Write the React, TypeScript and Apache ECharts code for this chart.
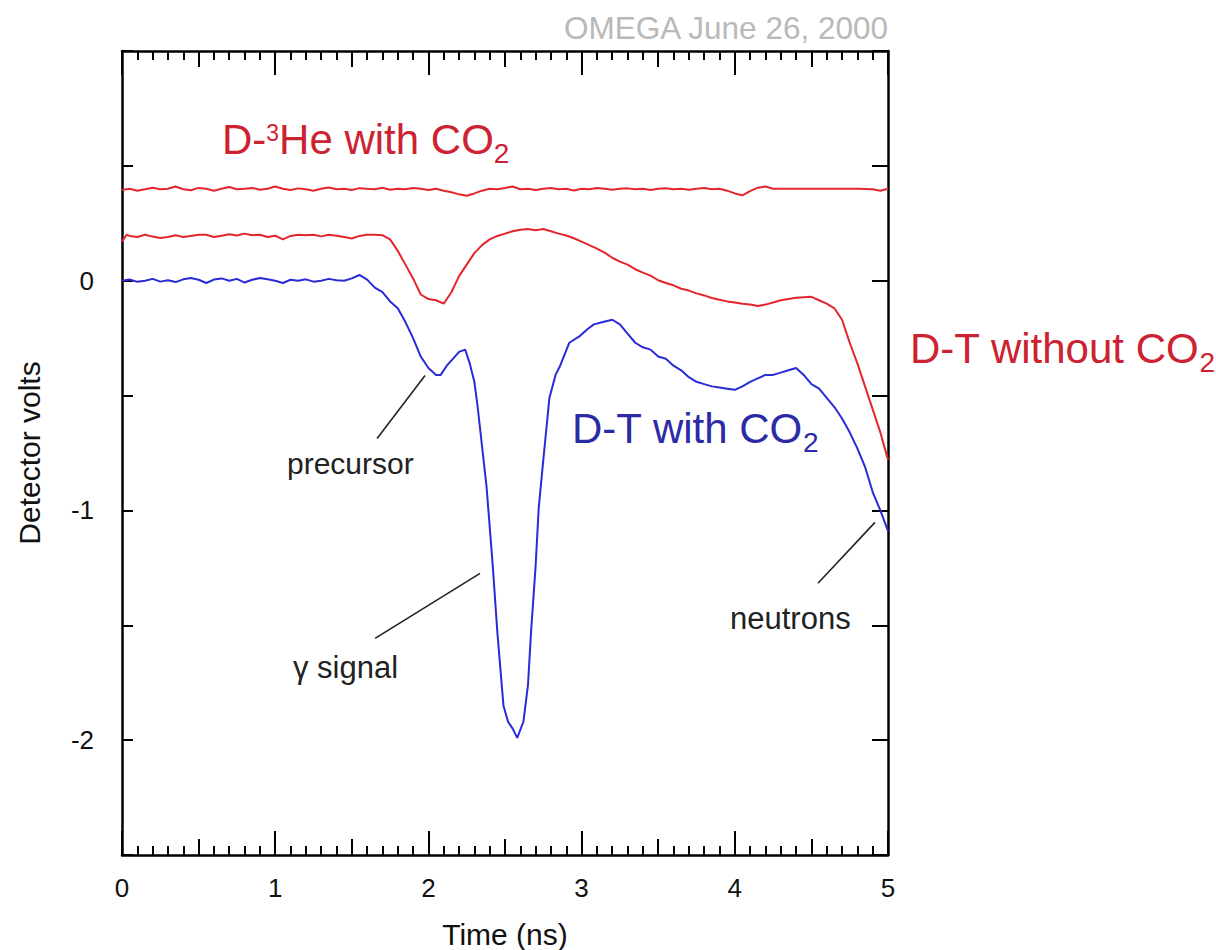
import React, { useEffect, useRef } from "react";
import * as echarts from "echarts";

// D-3He with CO2 (top red trace): [time ns, volts]
const d3HeWithCO2: [number, number][] = [
  [0.0, 0.395], [0.05, 0.4], [0.1, 0.392], [0.15, 0.398], [0.2, 0.405], [0.25, 0.398], [0.3, 0.4], [0.35, 0.41],
  [0.4, 0.398], [0.45, 0.394], [0.5, 0.404], [0.55, 0.4], [0.6, 0.392], [0.65, 0.4], [0.7, 0.408], [0.75, 0.398],
  [0.8, 0.4], [0.85, 0.404], [0.9, 0.396], [0.95, 0.4], [1.0, 0.41], [1.05, 0.4], [1.1, 0.395], [1.15, 0.402],
  [1.2, 0.398], [1.25, 0.392], [1.3, 0.4], [1.35, 0.406], [1.4, 0.398], [1.45, 0.4], [1.5, 0.395], [1.55, 0.403],
  [1.6, 0.4], [1.65, 0.398], [1.7, 0.405], [1.75, 0.396], [1.8, 0.4], [1.85, 0.398], [1.9, 0.404], [1.95, 0.4],
  [2.0, 0.395], [2.05, 0.4], [2.1, 0.392], [2.15, 0.385], [2.2, 0.376], [2.25, 0.37], [2.3, 0.38], [2.35, 0.392],
  [2.4, 0.4], [2.45, 0.398], [2.5, 0.404], [2.55, 0.41], [2.6, 0.398], [2.65, 0.4], [2.7, 0.395], [2.75, 0.4],
  [2.8, 0.404], [2.85, 0.398], [2.9, 0.4], [2.95, 0.393], [3.0, 0.4], [3.05, 0.398], [3.1, 0.404], [3.15, 0.4],
  [3.2, 0.396], [3.25, 0.4], [3.3, 0.402], [3.35, 0.398], [3.4, 0.4], [3.45, 0.395], [3.5, 0.4], [3.55, 0.403],
  [3.6, 0.398], [3.65, 0.4], [3.7, 0.396], [3.75, 0.4], [3.8, 0.404], [3.85, 0.398], [3.9, 0.4], [3.95, 0.392],
  [4.0, 0.38], [4.05, 0.372], [4.1, 0.39], [4.15, 0.405], [4.2, 0.41], [4.25, 0.4], [4.3, 0.4], [4.4, 0.4],
  [4.5, 0.4], [4.6, 0.4], [4.7, 0.4], [4.8, 0.4], [4.9, 0.398], [4.95, 0.392], [5.0, 0.4],
];

// D-T without CO2 (middle red trace)
const dtWithoutCO2: [number, number][] = [
  [0.0, 0.17], [0.03, 0.2], [0.05, 0.195], [0.1, 0.19], [0.15, 0.2], [0.2, 0.192], [0.25, 0.186], [0.3, 0.19],
  [0.35, 0.198], [0.4, 0.19], [0.45, 0.195], [0.5, 0.2], [0.55, 0.2], [0.6, 0.19], [0.65, 0.196], [0.7, 0.202],
  [0.75, 0.197], [0.8, 0.205], [0.85, 0.198], [0.9, 0.2], [0.95, 0.19], [1.0, 0.196], [1.05, 0.18], [1.1, 0.195],
  [1.15, 0.2], [1.2, 0.198], [1.25, 0.2], [1.3, 0.193], [1.35, 0.2], [1.4, 0.196], [1.45, 0.19], [1.5, 0.184],
  [1.55, 0.195], [1.6, 0.2], [1.65, 0.2], [1.7, 0.198], [1.75, 0.18], [1.8, 0.13], [1.85, 0.07], [1.9, 0.01],
  [1.95, -0.06], [2.0, -0.08], [2.05, -0.085], [2.1, -0.1], [2.15, -0.05], [2.2, 0.02], [2.25, 0.07], [2.3, 0.12],
  [2.35, 0.155], [2.4, 0.18], [2.45, 0.195], [2.5, 0.205], [2.55, 0.215], [2.6, 0.222], [2.65, 0.225], [2.7, 0.22],
  [2.75, 0.225], [2.8, 0.215], [2.85, 0.205], [2.9, 0.197], [2.95, 0.185], [3.0, 0.17], [3.05, 0.155], [3.1, 0.14],
  [3.15, 0.122], [3.2, 0.1], [3.25, 0.083], [3.3, 0.07], [3.35, 0.05], [3.4, 0.035], [3.45, 0.022], [3.5, 0.002],
  [3.55, -0.01], [3.6, -0.02], [3.65, -0.035], [3.7, -0.043], [3.75, -0.055], [3.8, -0.064], [3.85, -0.075],
  [3.9, -0.083], [3.95, -0.09], [4.0, -0.095], [4.05, -0.1], [4.1, -0.104], [4.15, -0.11], [4.2, -0.104],
  [4.25, -0.095], [4.3, -0.085], [4.35, -0.08], [4.4, -0.074], [4.45, -0.072], [4.5, -0.07], [4.55, -0.085],
  [4.6, -0.1], [4.65, -0.12], [4.7, -0.17], [4.75, -0.27], [4.8, -0.36], [4.85, -0.46], [4.9, -0.56],
  [4.95, -0.66], [5.0, -0.78],
];

// D-T with CO2 (blue trace)
const dtWithCO2: [number, number][] = [
  [0.0, 0.0], [0.05, 0.005], [0.1, -0.005], [0.15, 0.0], [0.2, 0.008], [0.25, -0.004], [0.3, 0.002], [0.35, -0.006],
  [0.4, 0.006], [0.45, 0.012], [0.5, 0.004], [0.55, -0.01], [0.6, 0.005], [0.65, 0.01], [0.7, 0.0], [0.75, 0.008],
  [0.8, -0.008], [0.85, 0.004], [0.9, 0.012], [0.95, 0.006], [1.0, 0.0], [1.05, -0.01], [1.1, 0.004], [1.15, 0.0],
  [1.2, 0.006], [1.25, -0.004], [1.3, 0.0], [1.35, 0.008], [1.4, 0.002], [1.45, 0.0], [1.5, 0.01], [1.55, 0.025],
  [1.6, 0.005], [1.65, -0.03], [1.7, -0.05], [1.75, -0.09], [1.8, -0.12], [1.85, -0.18], [1.9, -0.25], [1.95, -0.33],
  [2.0, -0.38], [2.05, -0.41], [2.08, -0.41], [2.12, -0.37], [2.16, -0.34], [2.2, -0.31], [2.24, -0.3], [2.27, -0.36],
  [2.3, -0.44], [2.32, -0.54], [2.35, -0.72], [2.38, -0.9], [2.42, -1.24], [2.45, -1.53], [2.49, -1.85], [2.52, -1.92],
  [2.55, -1.95], [2.58, -1.99], [2.62, -1.92], [2.65, -1.76], [2.67, -1.53], [2.7, -1.24], [2.72, -0.99],
  [2.75, -0.78], [2.79, -0.51], [2.83, -0.41], [2.86, -0.37], [2.92, -0.27], [2.99, -0.24], [3.04, -0.21],
  [3.08, -0.19], [3.14, -0.18], [3.2, -0.17], [3.25, -0.19], [3.3, -0.23], [3.35, -0.27], [3.4, -0.29],
  [3.45, -0.3], [3.5, -0.33], [3.55, -0.34], [3.6, -0.37], [3.65, -0.39], [3.7, -0.42], [3.75, -0.44],
  [3.8, -0.45], [3.85, -0.46], [3.9, -0.465], [3.95, -0.47], [4.0, -0.475], [4.05, -0.46], [4.1, -0.44],
  [4.15, -0.425], [4.2, -0.41], [4.25, -0.41], [4.3, -0.4], [4.35, -0.39], [4.4, -0.38], [4.45, -0.41],
  [4.5, -0.45], [4.55, -0.47], [4.6, -0.51], [4.65, -0.55], [4.7, -0.6], [4.75, -0.66], [4.8, -0.73],
  [4.85, -0.81], [4.9, -0.92], [4.95, -1.0], [5.0, -1.09],
];

// Annotation leader lines in data coordinates
const precursorLeader: [number, number][] = [[1.665, -0.687], [1.978, -0.413]];
const gammaLeader: [number, number][] = [[1.652, -1.557], [2.337, -1.274]];
const neutronLeader: [number, number][] = [[4.543, -1.317], [4.915, -1.052]];

const yLabelValues = [0, -1, -2];

const FONT = "'Liberation Sans', Arial, Helvetica, sans-serif";
const RED = "#e4262c";
const BLUE = "#2a2ad6";
const RED_TEXT = "#cc2231";
const BLUE_TEXT = "#2b2ba6";

export default function App() {
  const ref = useRef<HTMLDivElement>(null);

  useEffect(() => {
    if (!ref.current) return;
    const chart = echarts.init(ref.current, null, { renderer: "svg" });

    const axisLine = { show: true, onZero: false, lineStyle: { color: "#000", width: 2.5 } };
    const noLine = { show: false, onZero: false };
    const tickStyle = { color: "#000", width: 2 };

    const xMajor = (pos: "top" | "bottom", withLabels: boolean) => ({
      type: "value",
      min: 0,
      max: 5,
      interval: 1,
      position: pos,
      axisLine,
      axisTick: { show: true, inside: true, length: 24, lineStyle: tickStyle },
      axisLabel: withLabels
        ? { show: true, fontSize: 26, color: "#111", margin: 20, fontFamily: FONT }
        : { show: false },
      splitLine: { show: false },
      ...(withLabels
        ? {
            name: "Time (ns)",
            nameLocation: "middle",
            nameGap: 64,
            nameTextStyle: { fontSize: 30, color: "#111", fontFamily: FONT },
          }
        : {}),
    });
    const xMinor = (pos: "top" | "bottom") => ({
      type: "value",
      min: 0,
      max: 5,
      interval: 0.5,
      position: pos,
      axisLine: noLine,
      axisTick: { show: true, inside: true, length: 16, lineStyle: tickStyle },
      minorTick: { show: true, splitNumber: 5, length: 9, lineStyle: tickStyle },
      axisLabel: { show: false },
      splitLine: { show: false },
      minorSplitLine: { show: false },
    });

    const lineSeries = (name: string, data: [number, number][], color: string, width: number) => ({
      name,
      type: "line",
      data,
      xAxisIndex: 0,
      yAxisIndex: 0,
      showSymbol: false,
      symbol: "none",
      silent: true,
      lineStyle: { color, width },
      z: 3,
    });

    const richLabel = (color: string) => ({
      m: { fontSize: 42, lineHeight: 56, fill: color, fontFamily: FONT },
      sup: { fontSize: 23, verticalAlign: "middle", padding: [0, 0, 13, 0], fill: color, fontFamily: FONT },
      sub: { fontSize: 28, lineHeight: 28, verticalAlign: "bottom", fill: color, fontFamily: FONT },
    });

    chart.setOption({
      animation: false,
      backgroundColor: "#fff",
      grid: {
        left: 122,
        right: 328,
        top: 51,
        bottom: 95,
        containLabel: false,
        outerBoundsMode: "none",
      },
      xAxis: [xMajor("bottom", true), xMinor("bottom"), xMajor("top", false), xMinor("top")],
      yAxis: [
        {
          type: "value",
          min: -2.5,
          max: 1,
          interval: 0.5,
          position: "left",
          axisLine,
          axisTick: { show: true, inside: true, length: 11, lineStyle: tickStyle },
          axisLabel: {
            show: true,
            fontSize: 26,
            color: "#111",
            margin: 28,
            fontFamily: FONT,
            formatter: (v: number) => (yLabelValues.indexOf(v) >= 0 ? String(v) : ""),
          },
          splitLine: { show: false },
          name: "Detector volts",
          nameLocation: "middle",
          nameGap: 78,
          nameTextStyle: { fontSize: 30, color: "#111", fontFamily: FONT },
        },
        {
          type: "value",
          min: -2.5,
          max: 1,
          interval: 0.5,
          position: "right",
          axisLine,
          axisTick: { show: true, inside: true, length: 16, lineStyle: tickStyle },
          axisLabel: { show: false },
          splitLine: { show: false },
        },
      ],
      series: [
        lineSeries("D-3He with CO2", d3HeWithCO2, RED, 2),
        lineSeries("D-T without CO2", dtWithoutCO2, RED, 2),
        lineSeries("D-T with CO2", dtWithCO2, BLUE, 2),
        lineSeries("precursor leader", precursorLeader, "#222", 1.6),
        lineSeries("gamma leader", gammaLeader, "#222", 1.6),
        lineSeries("neutron leader", neutronLeader, "#222", 1.6),
      ],
      graphic: [
        {
          type: "text",
          x: 888,
          y: 28,
          style: {
            text: "OMEGA June 26, 2000",
            fontSize: 31.5,
            fontFamily: FONT,
            fill: "#b9b9b9",
            align: "right",
            verticalAlign: "middle",
          },
        },
        {
          type: "text",
          x: 222,
          y: 139,
          style: {
            text: "{m|D-}{sup|3}{m|He with CO}{sub|2}",
            rich: richLabel(RED_TEXT),
            align: "left",
            verticalAlign: "middle",
          },
        },
        {
          type: "text",
          x: 910,
          y: 348,
          style: {
            text: "{m|D-T without CO}{sub|2}",
            rich: richLabel(RED_TEXT),
            align: "left",
            verticalAlign: "middle",
          },
        },
        {
          type: "text",
          x: 572,
          y: 428,
          style: {
            text: "{m|D-T with CO}{sub|2}",
            rich: richLabel(BLUE_TEXT),
            align: "left",
            verticalAlign: "middle",
          },
        },
        {
          type: "text",
          x: 287,
          y: 463,
          style: { text: "precursor", fontSize: 30, fontFamily: FONT, fill: "#222", align: "left", verticalAlign: "middle" },
        },
        {
          type: "text",
          x: 293,
          y: 667,
          style: { text: "γ signal", fontSize: 31, fontFamily: FONT, fill: "#222", align: "left", verticalAlign: "middle" },
        },
        {
          type: "text",
          x: 730,
          y: 618,
          style: { text: "neutrons", fontSize: 31, fontFamily: FONT, fill: "#222", align: "left", verticalAlign: "middle" },
        },
      ],
    });

    return () => chart.dispose();
  }, []);

  return (
    <div
      ref={ref}
      style={{ position: "absolute", left: 0, top: 0, width: 1216, height: 950, background: "#fff" }}
    />
  );
}
